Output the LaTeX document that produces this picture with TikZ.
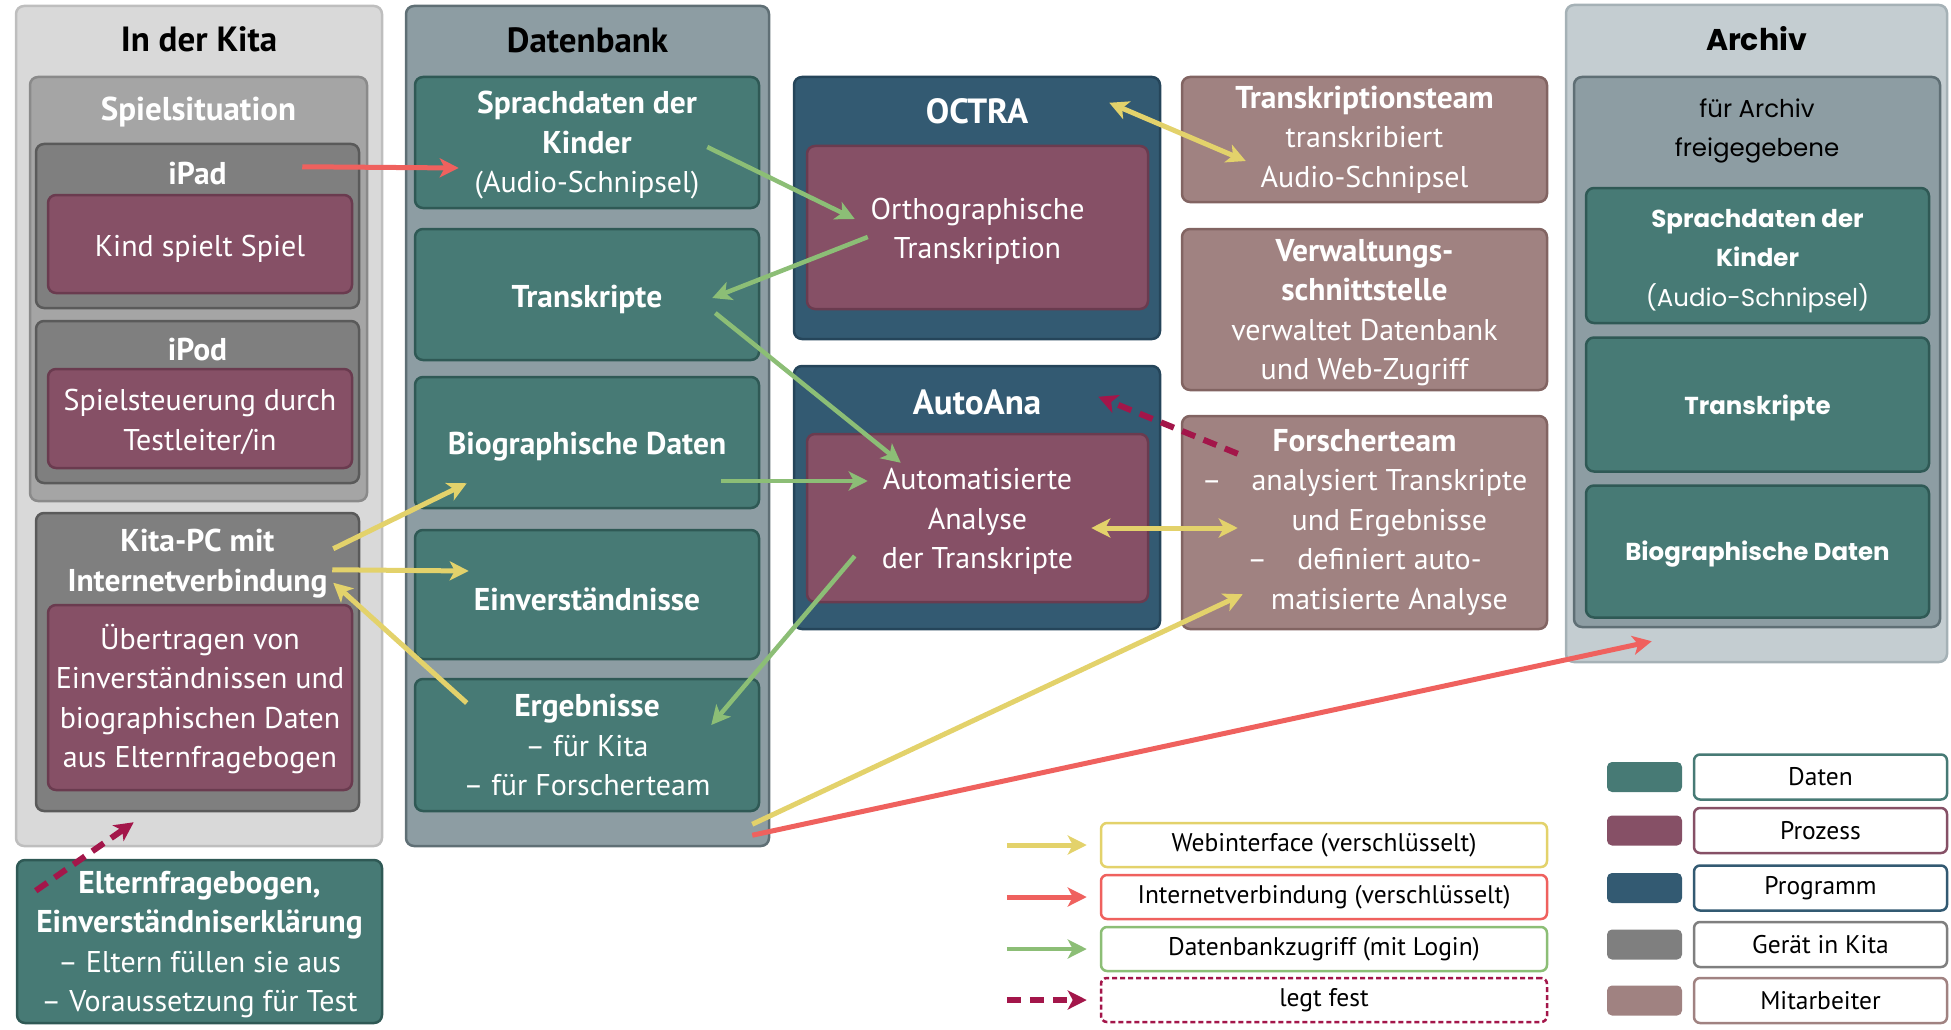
\documentclass[tikz,border=0pt]{standalone}
\usepackage{fontspec}
\setmainfont{PT Sans}
\newfontfamily\archfont{Poppins}
\usetikzlibrary{arrows.meta,calc}

\definecolor{kitagray}{HTML}{D9D9D9}
\definecolor{kitaline}{HTML}{BEBEBE}
\definecolor{dbgray}{HTML}{8D9DA3}
\definecolor{dbline}{HTML}{5F6F75}
\definecolor{spielgray}{HTML}{A5A5A5}
\definecolor{spielline}{HTML}{8A8A8A}
\definecolor{geraet}{HTML}{7F7F7F}
\definecolor{geraetline}{HTML}{5A5A5A}
\definecolor{prozess}{HTML}{865066}
\definecolor{prozessline}{HTML}{6A3B4F}
\definecolor{daten}{HTML}{477A75}
\definecolor{datenline}{HTML}{2F5955}
\definecolor{programm}{HTML}{335A72}
\definecolor{programmline}{HTML}{25455A}
\definecolor{mitarb}{HTML}{A08281}
\definecolor{mitarbline}{HTML}{826462}
\definecolor{archgray}{HTML}{C4CDD1}
\definecolor{archline}{HTML}{A5B1B6}
\definecolor{webyellow}{HTML}{E3D26B}
\definecolor{netred}{HTML}{EF615E}
\definecolor{dbgreen}{HTML}{8CBE76}
\definecolor{fixred}{HTML}{A3164A}

\newcommand{\boxtxt}{\fontsize{30}{39.5}\selectfont}
\newcommand{\fett}[1]{{\fontsize{31.5}{39.5}\selectfont\bfseries #1}}
\newcommand{\hoch}{\rule{0pt}{28.5pt}}
\newcommand{\headtxt}{\fontsize{31.5}{40}\selectfont\bfseries}
\newcommand{\bigheadtxt}{\fontsize{35}{40}\selectfont\bfseries}
\newcommand{\legtxt}{\fontsize{25.5}{30}\selectfont}
\newcommand{\archtxt}{\archfont\fontsize{24.5}{39.5}\selectfont}

\tikzset{
  box/.style={rectangle, rounded corners=8pt, line width=2.5pt, align=center,
    inner sep=0pt, text=white, font=\boxtxt,
    execute at begin node={\rule{0pt}{1.05em}}},
  kitaouter/.style={box, fill=kitagray, draw=kitaline},
  dbouter/.style={box, fill=dbgray, draw=dbline},
  archouter/.style={box, fill=archgray, draw=archline},
  spielbox/.style={box, fill=spielgray, draw=spielline},
  devbox/.style={box, fill=geraet, draw=geraetline},
  procbox/.style={box, fill=prozess, draw=prozessline},
  databox/.style={box, fill=daten, draw=datenline},
  progbox/.style={box, fill=programm, draw=programmline},
  staffbox/.style={box, fill=mitarb, draw=mitarbline},
  blacktitle/.style={font=\bigheadtxt, text=black},
  whitetitle/.style={font=\headtxt, text=white, align=center},
  legbox/.style={rectangle, rounded corners=6pt, line width=2.5pt, fill=white,
    minimum width=446pt, minimum height=44pt, font=\legtxt},
  legkey/.style={rectangle, rounded corners=6pt, line width=2.5pt, fill=white,
    minimum width=253pt, minimum height=45pt, font=\legtxt},
  swatch/.style={rectangle, rounded corners=5pt, minimum width=75pt, minimum height=30pt},
  tip/.style={-{Stealth[length=19pt, width=19pt, inset=5pt]}},
  bothtips/.style={{Stealth[length=19pt, width=19pt, inset=5pt]}-{Stealth[length=19pt, width=19pt, inset=5pt]}},
  webline/.style={draw=webyellow, line width=5pt},
  netline/.style={draw=netred, line width=5pt},
  dbline/.style={draw=dbgreen, line width=4.5pt},
  fixline/.style={draw=fixred, line width=6pt, dash pattern=on 14pt off 9pt}
}

\begin{document}
\begin{tikzpicture}[x=1pt, y=-1pt]
\useasboundingbox (0,0) rectangle (1951,1030);

% In der Kita
\node[kitaouter, minimum width=366pt, minimum height=840pt] (kita) at (199,426) {};
\node[blacktitle] (kitatitle) at (199,39) {In der Kita};
\node[spielbox, minimum width=337pt, minimum height=424pt] (spiel) at (198.5,289) {};
\node[whitetitle, font=\fontsize{33}{40}\selectfont\bfseries] (spieltitle) at (198.5,112) {Spielsituation};
\node[devbox, minimum width=323pt, minimum height=164pt] (ipad) at (197.5,226) {};
\node[whitetitle] (ipadtitle) at (197.5,174) {iPad};
\node[procbox, minimum width=304pt, minimum height=98pt] (kindspiel) at (200,244) {Kind spielt Spiel};
\node[devbox, minimum width=323pt, minimum height=162pt] (ipod) at (197.5,402) {};
\node[whitetitle] (ipodtitle) at (197.5,350) {iPod};
\node[procbox, minimum width=304pt, minimum height=99pt] (steuerung) at (200,418.5) {\hoch Spielsteuerung durch\\Testleiter/in};
\node[devbox, minimum width=323pt, minimum height=298pt] (kitapc) at (197.5,662) {};
\node[whitetitle] (kitapctitle) at (197.5,564) {Kita-PC mit\\Internetverbindung};
\node[procbox, minimum width=304pt, minimum height=185pt] (uebertragen) at (200,697.5) {\hoch Übertragen von\\Einverständnissen und\\biographischen Daten\\aus Elternfragebogen};
\node[databox, minimum width=365pt, minimum height=163pt] (eltern) at (199.5,941.5) {\hoch\fett{Elternfragebogen,}\\\fett{Einverständniserklärung}\\– Eltern füllen sie aus\\– Voraussetzung für Test};

% Datenbank
\node[dbouter, minimum width=363pt, minimum height=840pt] (db) at (587.5,426) {};
\node[blacktitle] (dbtitle) at (587.5,40) {Datenbank};
\node[databox, minimum width=344pt, minimum height=131pt] (sprach) at (587,142.5) {\hoch\fett{Sprachdaten der}\\\fett{Kinder}\\(Audio-Schnipsel)};
\node[databox, minimum width=344pt, minimum height=131pt] (transkripte) at (587,294.5) {\fett{Transkripte}};
\node[databox, minimum width=344pt, minimum height=131pt] (bio) at (587,442.5) {\fett{Biographische Daten}};
\node[databox, minimum width=344pt, minimum height=129pt] (einverst) at (587,594.5) {\fett{Einverständnisse}};
\node[databox, minimum width=344pt, minimum height=132pt] (ergebnisse) at (587,745) {\fett{Ergebnisse}\\– für Kita\\– für Forscherteam};

% Programme
\node[progbox, minimum width=366pt, minimum height=262pt] (octra) at (977,208) {};
\node[whitetitle, font=\bigheadtxt] (octratitle) at (977,111) {OCTRA};
\node[procbox, minimum width=341pt, minimum height=163pt] (ortho) at (977.5,227.5) {\hoch Orthographische\\Transkription};
\node[progbox, minimum width=366pt, minimum height=263pt] (autoana) at (977,497.5) {};
\node[whitetitle, font=\bigheadtxt] (autoanatitle) at (977,402) {AutoAna};
\node[procbox, minimum width=341pt, minimum height=168pt] (autoanalyse) at (977.5,518) {\hoch Automatisierte\\Analyse\\der Transkripte};

% Mitarbeiter
\node[staffbox, minimum width=365pt, minimum height=125pt] (transteam) at (1364.5,139.5) {\fett{Transkriptionsteam}\\transkribiert\\Audio-Schnipsel};
\node[staffbox, minimum width=365pt, minimum height=161pt] (verwaltung) at (1364.5,309.5) {\hoch\fett{Verwaltungs-}\\\fett{schnittstelle}\\verwaltet Datenbank\\und Web-Zugriff};
\node[staffbox, minimum width=365pt, minimum height=213pt] (forscher) at (1364.5,522.5) {\fett{Forscherteam}\\–\quad analysiert Transkripte\\\phantom{–\quad}und Ergebnisse\\–\quad definiert auto-\\\phantom{–\quad}matisierte Analyse};

% Archiv
\node[archouter, minimum width=381pt, minimum height=657pt] (archiv) at (1756.5,333.5) {};
\node[blacktitle, font=\archfont\fontsize{30}{40}\selectfont\bfseries] (archivtitle) at (1756.5,39) {Archiv};
\node[dbouter, minimum width=366pt, minimum height=550pt] (freigabe) at (1757,352) {};
\node[text=black, font=\archtxt, align=center] (freigabetitle) at (1757,131) {für Archiv\\freigegebene};
\node[databox, font=\archtxt, minimum width=343pt, minimum height=135pt] (archsprach) at (1757.5,255.5) {\hoch\textbf{Sprachdaten der}\\\textbf{Kinder}\\(Audio-Schnipsel)};
\node[databox, font=\archtxt, minimum width=343pt, minimum height=134pt] (archtrans) at (1757.5,404.5) {\textbf{Transkripte}};
\node[databox, font=\archtxt, minimum width=343pt, minimum height=132pt] (archbio) at (1757.5,551.5) {\textbf{Biographische Daten}};

% Verbindungen
\draw[netline, tip] ($(ipad.north east)+(-58,24)$) -- ($(sprach.west)+(45,25.5)$);
\draw[dbline, tip] ($(sprach.east)+(-53,4.5)$) -- ($(ortho.west)+(49,-8.5)$);
\draw[dbline, tip] ($(ortho.west)+(62,9.5)$) -- ($(transkripte.east)+(-48,3.5)$);
\draw[dbline, tip] ($(transkripte.east)+(-45,18.5)$) -- ($(autoanalyse.north west)+(95,30)$);
\draw[dbline, tip] ($(bio.east)+(-39,38.5)$) -- ($(autoanalyse.west)+(62,-37)$);
\draw[dbline, tip] ($(autoanalyse.west)+(49,38)$) -- ($(ergebnisse.east)+(-49,-20)$);
\draw[webline, tip] ($(kitapc.north east)+(-27,37)$) -- ($(bio.south west)+(53,-26)$);
\draw[webline, tip] ($(kitapc.north east)+(-28,58)$) -- ($(einverst.west)+(55,-23.5)$);
\draw[webline, tip] ($(ergebnisse.west)+(53,-42)$) -- ($(kitapc.north east)+(-27,71)$);
\draw[webline, bothtips] ($(octra.north east)+(-52,27)$) -- ($(transteam.west)+(65,21.5)$);
\draw[webline, bothtips] ($(autoanalyse.east)+(-58,10)$) -- ($(forscher.west)+(57,5.5)$);
\draw[fixline, tip] ($(forscher.north west)+(57,39)$) -- ($(autoana.north east)+(-63,32)$);
\draw[webline, tip] ($(db.south east)+(-18,-23)$) -- ($(forscher.south west)+(62,-36)$);
\draw[netline, tip] ($(db.south east)+(-18,-12)$) -- ($(archiv.south west)+(87,-22)$);
\draw[fixline, tip] ($(eltern.north west)+(20,32)$) -- ($(kita.south west)+(119,-25)$);

% Legende Verbindungen
\node[legbox, draw=webyellow] (legweb) at (1324,845) {Webinterface (verschlüsselt)};
\node[legbox, draw=netred] (legnet) at (1324,897) {Internetverbindung (verschlüsselt)};
\node[legbox, draw=dbgreen] (legdb) at (1324,949) {Datenbankzugriff (mit Login)};
\node[legbox, draw=fixred, dash pattern=on 5pt off 3pt] (legfest) at (1324,1000) {legt fest};
\draw[webline, tip] ([xshift=-93pt]legweb.west) -- ([xshift=-13pt]legweb.west);
\draw[netline, tip] ([xshift=-93pt]legnet.west) -- ([xshift=-13pt]legnet.west);
\draw[dbline, tip] ([xshift=-93pt]legdb.west) -- ([xshift=-13pt]legdb.west);
\draw[fixline, tip] ([xshift=-93pt]legfest.west) -- ([xshift=-13pt]legfest.west);

% Legende Farben
\node[swatch, fill=daten] (swdaten) at (1644.5,777) {};
\node[legkey, draw=daten] (legdaten) at (1820.5,777) {Daten};
\node[swatch, fill=prozess] (swprozess) at (1644.5,830.5) {};
\node[legkey, draw=prozess] (legprozess) at (1820.5,830.5) {Prozess};
\node[swatch, fill=programm] (swprogramm) at (1644.5,888) {};
\node[legkey, draw=programm] (legprogramm) at (1820.5,888) {Programm};
\node[swatch, fill=geraet] (swgeraet) at (1644.5,944.5) {};
\node[legkey, draw=geraet] (leggeraet) at (1820.5,944.5) {Gerät in Kita};
\node[swatch, fill=mitarb] (swmitarb) at (1644.5,1000.5) {};
\node[legkey, draw=mitarb] (legmitarb) at (1820.5,1000.5) {Mitarbeiter};
\end{tikzpicture}
\end{document}
